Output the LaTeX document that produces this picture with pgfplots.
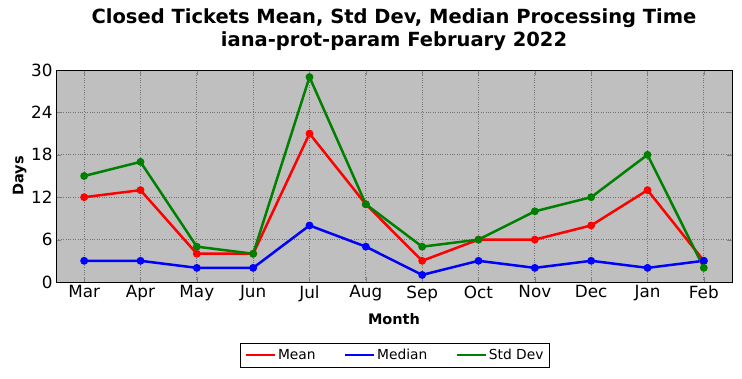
\documentclass[border=0pt]{standalone}
\usepackage{pgfplots}
\pgfplotsset{compat=1.18}
\usepackage{fontspec}
\setmainfont{DejaVu Sans}
\definecolor{bgray}{HTML}{BFBFBF}
\definecolor{mgreen}{HTML}{008000}
\begin{document}
\begin{tikzpicture}
\useasboundingbox (-56pt,-96pt) rectangle (686pt,282pt);
\begin{axis}[
  at={(0,0)}, anchor=south west,
  scale only axis, width=676pt, height=212pt,
  xmin=-0.5, xmax=11.5, ymin=0, ymax=30,
  xtick={0,...,11},
  xticklabels={Mar,Apr,May,Jun,Jul,Aug,Sep,Oct,Nov,Dec,Jan,Feb},
  ytick={0,6,12,18,24,30},
  /pgf/number format/assume math mode=true,
  tick label style={font=\fontsize{16.8}{18}\selectfont},
  tick align=inside, major tick length=5pt,
  xtick pos=both, ytick pos=both,
  axis background/.style={fill=bgray},
  axis line style={line width=1pt},
  grid=major, grid style={black!55, dotted, line width=0.8pt},
  xlabel={\bfseries Month}, ylabel={\bfseries Days},
  label style={font=\fontsize{14.5}{16}\selectfont},
  xlabel style={at={(axis description cs:0.5,0)}, anchor=north, yshift=-28pt},
  ylabel style={at={(axis description cs:0,0.5)}, anchor=south, yshift=26pt},
  title={\bfseries Closed Tickets Mean, Std Dev, Median Processing Time\\\bfseries iana-prot-param February 2022},
  title style={align=center, font=\fontsize{19.5}{22.5}\selectfont, at={(axis description cs:0.5,1)}, anchor=south, yshift=10pt},
  legend columns=3,
  legend style={at={(axis description cs:0.5015,-0.344)}, anchor=center, draw=black, line width=0.8pt, font=\fontsize{13.8}{15}\selectfont, /tikz/every even column/.append style={column sep=26pt}, inner sep=4pt},
  legend image code/.code={\draw[#1, mark=none] (0pt,0pt) -- (22pt,0pt); \path (0pt,0pt) -- (29pt,0pt);},
  every axis plot/.append style={line width=2.5pt, mark=*, mark size=2.6pt, mark options={draw=black, line width=0.6pt}},
]
\addplot[red, mark options={fill=red}] coordinates {(0,12)(1,13)(2,4)(3,4)(4,21)(5,11)(6,3)(7,6)(8,6)(9,8)(10,13)(11,3)};
\addlegendentry{Mean}
\addplot[blue, mark options={fill=blue}] coordinates {(0,3)(1,3)(2,2)(3,2)(4,8)(5,5)(6,1)(7,3)(8,2)(9,3)(10,2)(11,3)};
\addlegendentry{Median}
\addplot[mgreen, mark options={fill=mgreen}] coordinates {(0,15)(1,17)(2,5)(3,4)(4,29)(5,11)(6,5)(7,6)(8,10)(9,12)(10,18)(11,2)};
\addlegendentry{Std Dev}
\end{axis}
\end{tikzpicture}
\end{document}
